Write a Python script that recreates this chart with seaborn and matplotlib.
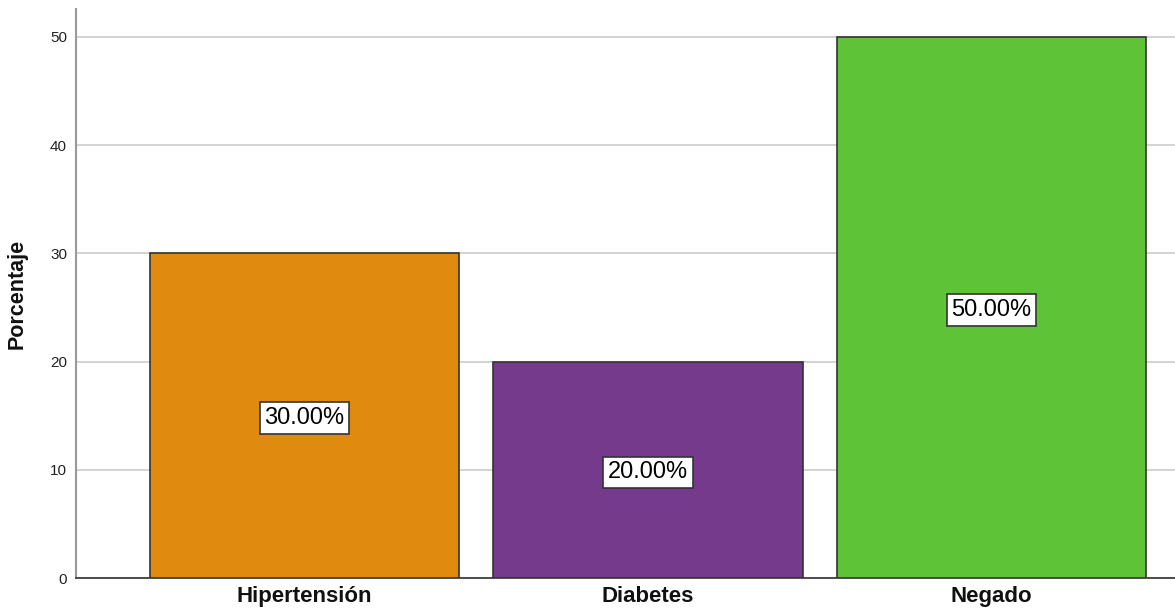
import matplotlib
matplotlib.use("Agg")
import matplotlib.pyplot as plt
import seaborn as sns
import pandas as pd

categories = ["Hipertensión", "Diabetes", "Negado"]
values = [30.0, 20.0, 50.0]
colors = ["#E08A10", "#753A8B", "#5FC338"]
yticks = [0, 10, 20, 30, 40, 50]

sns.set_style("white")
plt.rcParams['font.family'] = ['Liberation Sans', 'DejaVu Sans']

df = pd.DataFrame({"cat": categories, "val": values})

fig = plt.figure(figsize=(11.75, 6.13), dpi=100)
ax = fig.add_axes([76/1175, 1 - 578/613, 1 - 76/1175, (578 - 9)/613])

sns.barplot(data=df, x="cat", y="val", hue="cat", palette=colors, legend=False,
            width=0.9, edgecolor="#333333", linewidth=1.2, saturation=1, ax=ax, zorder=3)

ax.set_ylim(0, 50 * 569 / 541)
ax.set_xlim(-0.665, 2.534)
ax.set_yticks(yticks)
ax.yaxis.grid(True, color="#d0d0d0", linewidth=1.3, zorder=0)
ax.set_axisbelow(True)
for s in ["top", "right"]:
    ax.spines[s].set_visible(False)
ax.spines["left"].set_color("#999999")
ax.spines["left"].set_linewidth(1.5)
ax.spines["bottom"].set_color("#333333")
ax.spines["bottom"].set_linewidth(1.2)
ax.tick_params(axis="y", length=0, labelsize=11, pad=6.5, labelcolor="#222222")
ax.tick_params(axis="x", length=0, labelsize=16, pad=5.5, labelcolor="#111111")
for t in ax.get_xticklabels():
    t.set_fontweight("bold")
ax.set_xlabel("")
ax.set_ylabel("Porcentaje", fontsize=15.5, fontweight="bold", labelpad=16, color="#111111")

for i, v in enumerate(values):
    ax.text(i, v / 2, f"{v:.2f}%", ha="center", va="center_baseline", fontsize=17, color="black",
            bbox=dict(boxstyle="square,pad=0.2", facecolor="white", edgecolor="#333333", linewidth=1.2),
            zorder=5)

fig.savefig("out.png", dpi=100)
